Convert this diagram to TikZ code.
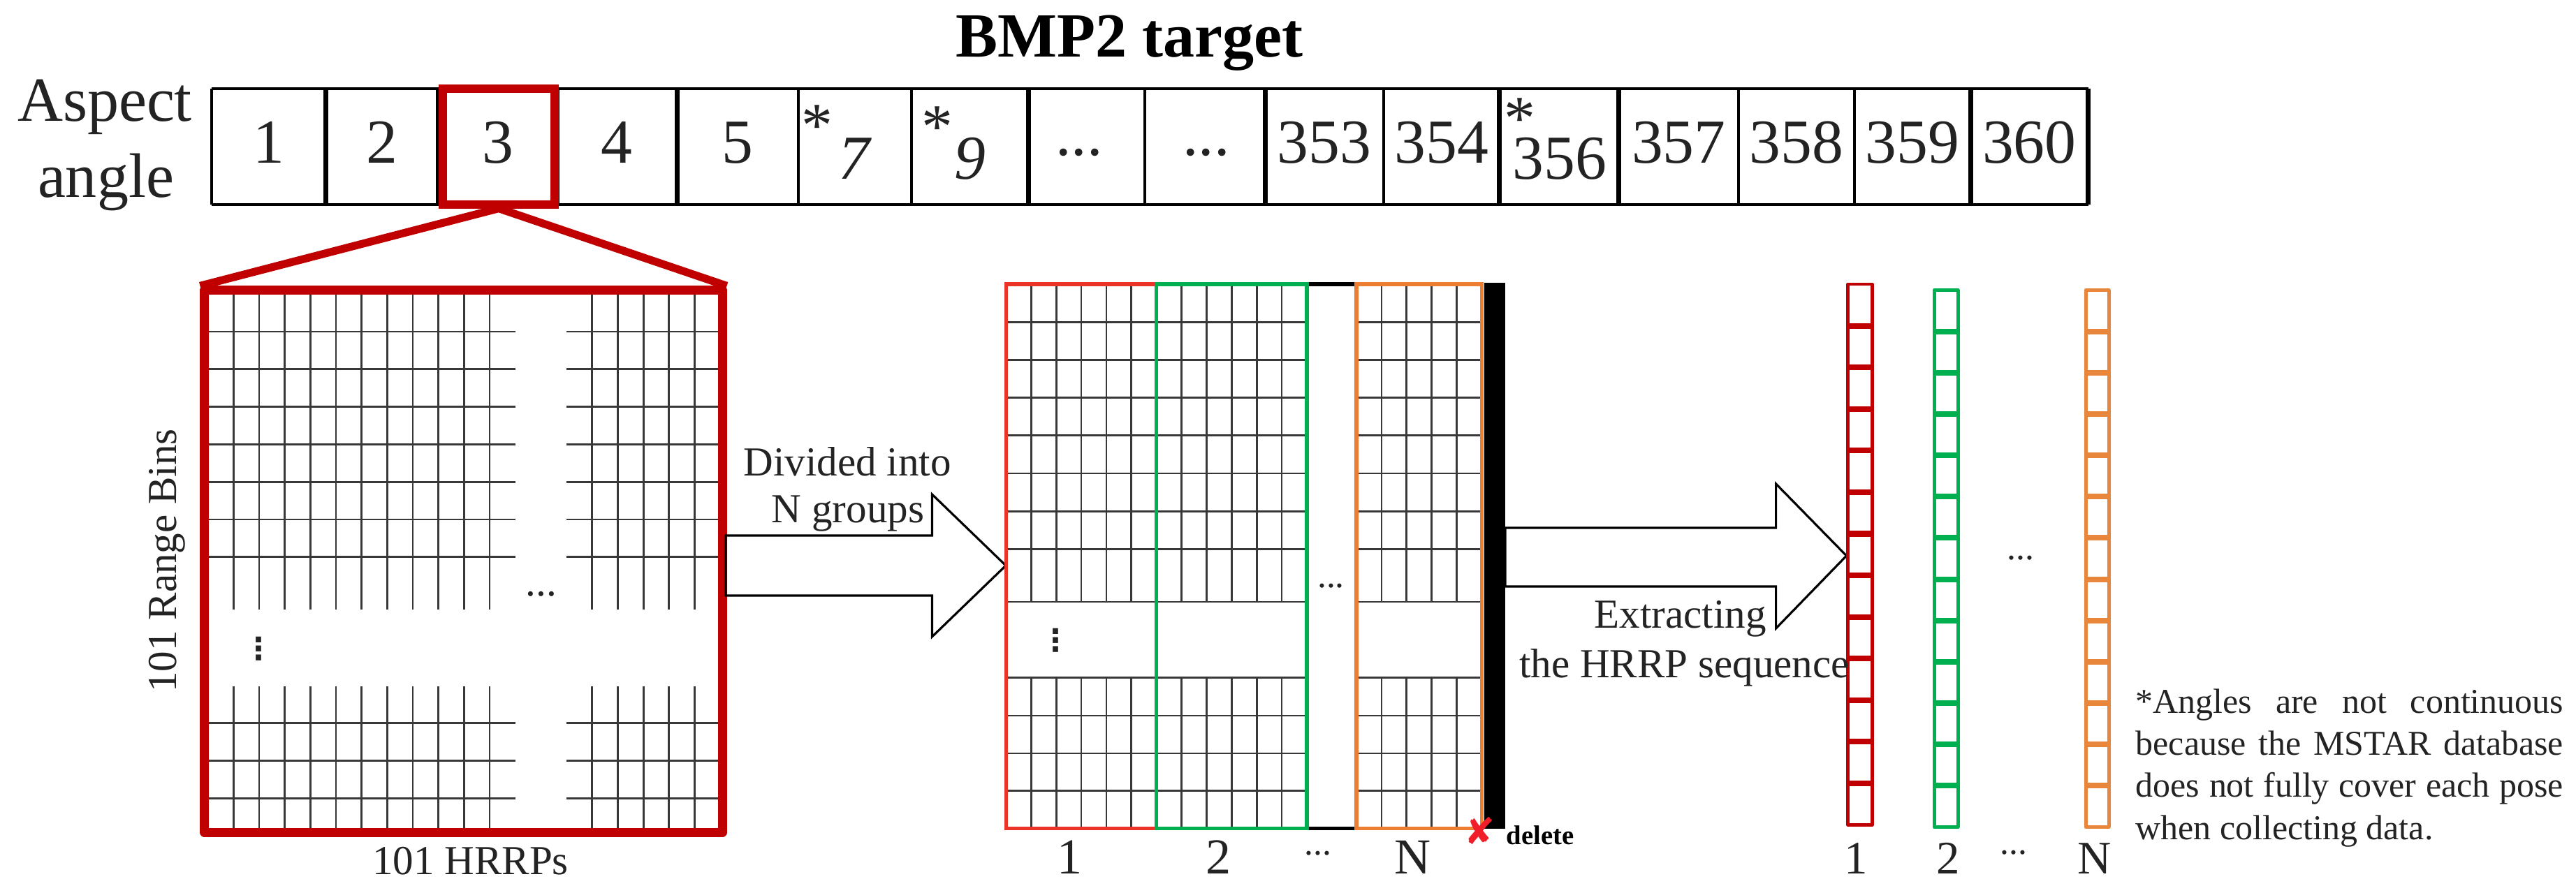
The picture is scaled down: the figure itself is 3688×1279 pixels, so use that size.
\documentclass[tikz,border=0pt]{standalone}
\usepackage{fontspec}
\setmainfont{Liberation Serif}
\newfontfamily\dejavu{DejaVu Sans}
\definecolor{bigred}{RGB}{192,0,0}
\definecolor{grpred}{RGB}{234,52,40}
\definecolor{grpgreen}{RGB}{0,176,80}
\definecolor{grporange}{RGB}{237,125,49}
\definecolor{colorange}{RGB}{232,135,60}
\definecolor{xred}{RGB}{240,30,40}
\definecolor{txt}{RGB}{35,35,35}
\begin{document}
\begin{tikzpicture}[x=0.01cm,y=-0.01cm,
  gridline/.style={line width=0.8pt, draw=black!78},
  rowline/.style={line width=1.1pt, draw=black},
  rowthick/.style={line width=2pt, draw=black},
  grpline/.style={line width=1.55pt},
  blockarrow/.style={line width=0.9pt, draw=black, line join=miter},
  lbl/.style={inner sep=0pt, text=txt, font=\fontsize{16.8}{19}\selectfont},
  num/.style={inner sep=0pt, text=txt, font=\fontsize{25.5}{30}\selectfont},
  big/.style={inner sep=0pt, text=txt, font=\fontsize{20.5}{24}\selectfont},
  colnum/.style={inner sep=0pt, text=txt, font=\fontsize{19}{23}\selectfont},
  dots/.style={inner sep=0pt, text=txt, font=\fontsize{14.7}{17}\selectfont},
  vdotsstyle/.style={inner sep=0pt, text=txt, font=\dejavu\bfseries\fontsize{12.5}{14}\selectfont}
]
\useasboundingbox (0,0) rectangle (3688,1279);
\fill[white] (0,0) rectangle (3688,1279);

% ---------------- title ----------------
\node[inner sep=0pt, anchor=base, font=\fontsize{25.6}{30}\selectfont\bfseries] (title) at (1617,82) {BMP2 target};

% ---------------- aspect angle row ----------------
\node[num, anchor=base, font=\fontsize{25.6}{30}\selectfont] (asp1) at (150,173) {Aspect};
\node[num, anchor=base, font=\fontsize{25.6}{30}\selectfont] (asp2) at (151.5,282) {angle};

\draw[rowline, line width=1.2pt] (303,126.7) -- (2989.6,126.7);
\draw[rowline, line width=1.2pt] (303,292.7) -- (2989.6,292.7);
\foreach \x in {303,1142.6,1305,1639.4,1980.6,2488.7,2654.9}
  \draw[rowline] (\x,126.7) -- (\x,292.7);
\foreach \x in {466.5,627.7,797.3,969.3,1472.2,1811.5,2146.8,2317.8,2821,2989.6}
  \draw[rowthick] (\x,126.7) -- (\x,292.7);

\foreach \x/\t/\n in {384.75/1/a1, 547.1/2/a2, 712.5/3/a3, 883.3/4/a4, 1055.95/5/a5,
  1896.05/353/a10, 2063.7/354/a11, 2403.25/357/a13, 2571.8/358/a14, 2737.95/359/a15, 2905.3/360/a16}
  \node[num, anchor=base] (\n) at (\x,233) {\t};
\node[num, anchor=base] (a6) at (1224,256) {\textit{7}};
\node[num, anchor=base] (a7) at (1389,256) {\textit{9}};
\node[num, anchor=base] (a12) at (2233,256) {356};
\node[num, anchor=north west] (s6) at (1147,150) {*};
\node[num, anchor=north west] (s7) at (1319,152) {*};
\node[num, anchor=north west] (s12) at (2153,140) {*};
\node[num] (a8) at (1545,218) {...};
\node[num] (a9) at (1727,218) {...};

% selection box around 3
\node[draw=bigred, line width=3.4pt, minimum width=1.60cm, minimum height=1.65cm, inner sep=0pt] (sel) at (714,210) {};

% ---------------- left 101x101 grid ----------------
\foreach \k in {1,...,11,15,16,17,18,19} {
  \draw[gridline] ({297.7+\k*36.67},416) -- ({297.7+\k*36.67},873);
  \draw[gridline] ({297.7+\k*36.67},982.7) -- ({297.7+\k*36.67},1192);
}
\foreach \yy in {475,528.8,582.6,636.4,690.2,744,797.8,1035.7,1089.3,1143.1} {
  \draw[gridline] (293,\yy) -- (738,\yy);
  \draw[gridline] (811,\yy) -- (1034,\yy);
}
\node[lbl] (ldots) at (774.7,850.7) {...};
\node[vdotsstyle] (lvdots) at (370.5,929) {⋮};

\node[draw=bigred, line width=3.6pt, line join=round, minimum width=7.41cm, minimum height=7.76cm, inner sep=0pt] (bigsq) at (663.5,804) {};
\draw[bigred, line width=3.2pt, line join=round] (bigsq.north west) -- (sel.south) -- (bigsq.north east);

\node[lbl, anchor=base] (hrrps) at (673.5,1252) {101 HRRPs};
\node[lbl, rotate=90, anchor=base] (rbins) at (252,803) {101 Range Bins};

% ---------------- arrow 1 ----------------
\draw[blockarrow] (1039,767) -- (1334.4,767) -- (1334.4,708) -- (1440,810) -- (1334.4,912) -- (1334.4,853) -- (1039,853) -- cycle;
\node[lbl, anchor=base] (div1) at (1213,681.7) {Divided into};
\node[lbl, anchor=base] (div2) at (1214,748.4) {N groups};

% ---------------- middle grouped grid ----------------
\foreach \gx/\gn/\gr in {1440.3/5/1655.5, 1655.5/5/1870.9, 1942/4/2121.5} {
  \foreach \k in {1,...,\gn} {
    \draw[gridline] ({\gx+\k*35.9},407) -- ({\gx+\k*35.9},862);
    \draw[gridline] ({\gx+\k*35.9},970.7) -- ({\gx+\k*35.9},1186.3);
  }
  \foreach \yy in {461.2,515.4,569.6,623.8,678,732.2,786.4,862,970.7,1025,1079,1132.3}
    \draw[gridline] (\gx,\yy) -- (\gr,\yy);
}
\draw[grpline, black] (1870.9,407) -- (1942,407) (1870.9,1186.3) -- (1942,1186.3);
\node[draw=grpred, grpline, minimum width=2.152cm, minimum height=7.793cm, inner sep=0pt] (g1) at (1547.9,796.65) {};
\node[draw=grpgreen, grpline, minimum width=2.154cm, minimum height=7.793cm, inner sep=0pt] (g2) at (1763.2,796.65) {};
\node[draw=grporange, grpline, minimum width=1.795cm, minimum height=7.793cm, inner sep=0pt] (g3) at (2031.75,796.65) {};
\node[fill=black, minimum width=0.30cm, minimum height=7.815cm, inner sep=0pt] (bar) at (2140,796.25) {};

\node[dots] (gapdots) at (1905.5,839) {...};
\node[vdotsstyle] (mvdots) at (1511,917) {⋮};

\node[big, anchor=base] (m1) at (1532,1251.7) {1};
\node[big, anchor=base] (m2) at (1744,1251.7) {2};
\node[dots] (mdots) at (1887,1221.7) {...};
\node[big, anchor=base] (mN) at (2023,1251.7) {N};

\node[text=xred, inner sep=0pt, font=\dejavu\fontsize{15}{18}\selectfont] (xmark) at (2119,1190) {✘};
\node[inner sep=0pt, anchor=base west, font=\fontsize{11}{13}\selectfont\bfseries] (del) at (2156,1209) {delete};

% ---------------- arrow 2 ----------------
\draw[blockarrow] (2155,756) -- (2542.6,756) -- (2542.6,693) -- (2643.5,796) -- (2542.6,900) -- (2542.6,840) -- (2155,840) -- cycle;

% ---------------- HRRP columns ----------------
\foreach \cx/\ctop/\cbot/\col/\nm/\cw in {2663/407/1181.5/bigred/c1/34.4, 2786/415.5/1184.5/grpgreen/c2/34, 3002.5/415.5/1184.5/colorange/c3/33} {
  \foreach \k in {1,...,12}
    \draw[draw=\col, line width=2.3pt] ({\cx-\cw/2},{\ctop+\k*(\cbot-\ctop)/13}) -- ({\cx+\cw/2},{\ctop+\k*(\cbot-\ctop)/13});
  \draw[draw=\col, line width=1.4pt, line join=round] ({\cx-\cw/2},\ctop) rectangle ({\cx+\cw/2},\cbot);
  \coordinate (\nm) at (\cx,\ctop);
}
\node[dots] (cdots) at (2892.5,799) {...};
\node[colnum, anchor=base] (k1) at (2657,1251) {1};
\node[colnum, anchor=base] (k2) at (2789,1251) {2};
\node[dots] (kdots) at (2883,1221) {...};
\node[colnum, anchor=base] (kN) at (2999,1251) {N};

\node[lbl, anchor=base] (ext1) at (2405.5,899.7) {Extracting};
\node[lbl, anchor=base] (ext2) at (2411.5,970) {the HRRP sequence};

% ---------------- footnote ----------------
\node[inner sep=0pt, anchor=base west, text=txt, text width=6.12cm, align=justify,
  font=\fontsize{14.2}{17.2}\selectfont] (note) at (3057,1021)
  {\tolerance=9999\hbadness=10000\hyphenpenalty=10000 *Angles are not continuous\linebreak because the MSTAR database\linebreak does not fully cover each pose\linebreak when collecting data.};
\end{tikzpicture}
\end{document}
